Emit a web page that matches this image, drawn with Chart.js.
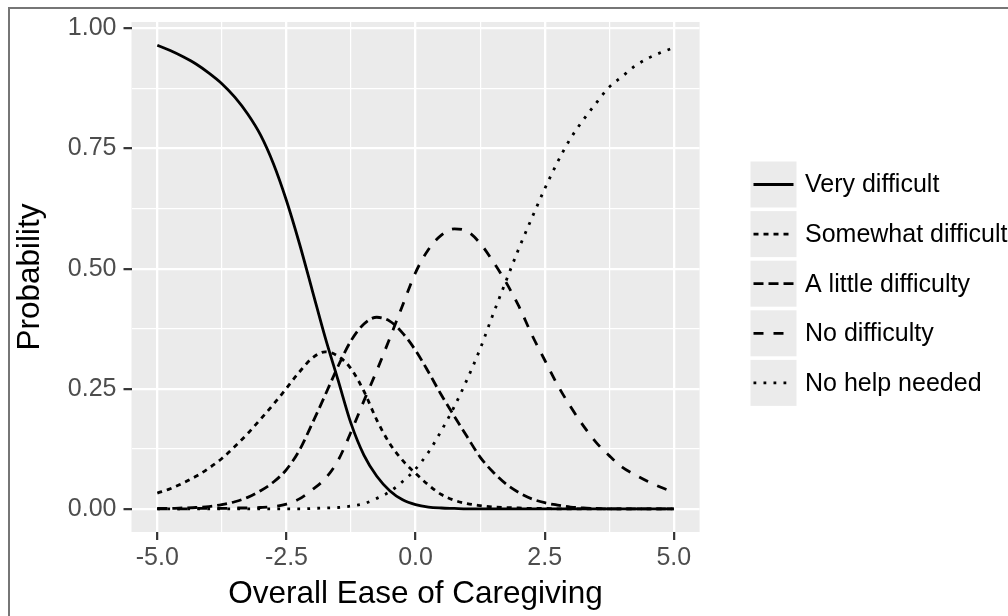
<!DOCTYPE html>
<html>
<head>
<meta charset="utf-8">
<script src="https://cdn.jsdelivr.net/npm/chart.js@4.4.1/dist/chart.umd.min.js"></script>
<style>
  html, body { margin: 0; padding: 0; background: #ffffff; }
  #wrap { position: relative; width: 1008px; height: 616px; overflow: hidden; }
  #frame { position: absolute; left: 8px; top: 7px; right: -4px; bottom: -4px;
           border-left: 2px solid #767676; border-top: 2px solid #767676; pointer-events: none; }
  canvas { display: block; }
</style>
</head>
<body>
<div id="wrap">
  <canvas id="c" width="1008" height="616"></canvas>
  <div id="frame"></div>
</div>
<script>
// ---- data ----
const xValues = [-5, -4.75, -4.5, -4.25, -4, -3.75, -3.5, -3.25, -3, -2.75, -2.5, -2.25, -2, -1.75, -1.5, -1.25, -1, -0.75, -0.5, -0.25,
                 0, 0.25, 0.5, 0.75, 1, 1.25, 1.5, 1.75, 2, 2.25, 2.5, 2.75, 3, 3.25, 3.5, 3.75, 4, 4.25, 4.5, 4.75, 5];

const seriesNames = ['Very difficult', 'Somewhat difficult', 'A little difficulty', 'No difficulty', 'No help needed'];

const veryDifficult = [0.965, 0.954, 0.941, 0.926, 0.907, 0.885, 0.857, 0.822, 0.778, 0.718, 0.642, 0.553, 0.455, 0.357, 0.268, 0.178, 0.112, 0.068, 0.038, 0.019,
                       0.009, 0.004, 0.002, 0.001, 0, 0, 0, 0, 0, 0, 0, 0, 0, 0, 0, 0, 0, 0, 0, 0, 0];
const somewhatDifficult = [0.033, 0.042, 0.054, 0.068, 0.085, 0.105, 0.130, 0.157, 0.187, 0.218, 0.251, 0.285, 0.314, 0.327, 0.318, 0.292, 0.245, 0.185, 0.136, 0.101,
                           0.074, 0.050, 0.030, 0.018, 0.011, 0.007, 0.004, 0.003, 0.002, 0.001, 0.001, 0, 0, 0, 0, 0, 0, 0, 0, 0, 0];
const aLittleDifficulty = [0.001, 0.001, 0.002, 0.003, 0.005, 0.009, 0.015, 0.024, 0.038, 0.056, 0.082, 0.122, 0.178, 0.237, 0.297, 0.350, 0.385, 0.399, 0.391, 0.366,
                           0.330, 0.285, 0.237, 0.193, 0.150, 0.108, 0.077, 0.052, 0.034, 0.021, 0.013, 0.008, 0.004, 0.002, 0.001, 0, 0, 0, 0, 0, 0];
const noDifficulty = [0, 0, 0, 0.001, 0.001, 0.001, 0.002, 0.002, 0.003, 0.005, 0.010, 0.021, 0.040, 0.063, 0.101, 0.160, 0.225, 0.288, 0.355, 0.424,
                      0.492, 0.540, 0.570, 0.583, 0.578, 0.553, 0.515, 0.472, 0.422, 0.363, 0.310, 0.258, 0.213, 0.173, 0.138, 0.111, 0.087, 0.071, 0.057, 0.045, 0.035];
const noHelpNeeded = [0, 0, 0, 0, 0, 0, 0, 0, 0, 0, 0, 0, 0.001, 0.002, 0.003, 0.006, 0.011, 0.022, 0.036, 0.057,
                      0.083, 0.118, 0.163, 0.213, 0.270, 0.333, 0.405, 0.474, 0.542, 0.605, 0.666, 0.722, 0.771, 0.810, 0.845, 0.878, 0.900, 0.922, 0.938, 0.950, 0.960];

const xTickValues = [-5, -3.75, -2.5, -1.25, 0, 1.25, 2.5, 3.75, 5];
const xTickLabels = ['-5.0', '', '-2.5', '', '0.0', '', '2.5', '', '5.0'];
const yTickValues = [0, 0.125, 0.25, 0.375, 0.5, 0.625, 0.75, 0.875, 1];
const yTickLabels = ['0.00', '', '0.25', '', '0.50', '', '0.75', '', '1.00'];

const xTitle = 'Overall Ease of Caregiving';
const yTitle = 'Probability';

// ---- styles ----
const LW = 2.8;
const dashPatterns = [[], [5, 5], [10, 5], [10, 10], [2.8, 7.2]];
const seriesValues = [veryDifficult, somewhatDifficult, aLittleDifficulty, noDifficulty, noHelpNeeded];

const FONT = '"Liberation Sans", Arial, Helvetica, sans-serif';
Chart.defaults.font.family = FONT;

const panelBg = {
  id: 'panelBg',
  beforeDraw(chart) {
    const a = chart.chartArea, ctx = chart.ctx;
    ctx.save();
    ctx.fillStyle = '#ebebeb';
    ctx.fillRect(a.left, a.top, a.right - a.left, a.bottom - a.top);
    ctx.restore();
  }
};

const ggLegend = {
  id: 'ggLegend',
  afterDraw(chart) {
    const ctx = chart.ctx;
    const keyX = 750.5, keyW = 46, keyH = 46, top0 = 161.5, pitch = 49.6;
    chart.data.datasets.forEach((ds, i) => {
      const y0 = top0 + i * pitch;
      const cy = y0 + keyH / 2;
      ctx.save();
      ctx.fillStyle = '#ebebeb';
      ctx.fillRect(keyX, y0, keyW, keyH);
      ctx.strokeStyle = ds.borderColor;
      ctx.lineWidth = ds.borderWidth;
      ctx.lineCap = 'butt';
      ctx.setLineDash(ds.borderDash || []);
      ctx.beginPath();
      ctx.moveTo(keyX + 3, cy);
      ctx.lineTo(keyX + keyW - 3, cy);
      ctx.stroke();
      ctx.setLineDash([]);
      ctx.fillStyle = '#000000';
      ctx.font = '25px ' + FONT;
      ctx.textAlign = 'left';
      ctx.textBaseline = 'middle';
      ctx.fillText(ds.label, 805, cy + 1);
      ctx.restore();
    });
  }
};

const isMajor = v => Math.abs((v / 2.5) - Math.round(v / 2.5)) < 1e-6;
const isMajorY = v => Math.abs(v * 4 - Math.round(v * 4)) < 1e-6;

new Chart(document.getElementById('c'), {
  type: 'line',
  data: {
    datasets: seriesNames.map((name, k) => ({
      label: name,
      data: xValues.map((x, i) => ({ x: x, y: seriesValues[k][i] })),
      borderColor: '#000000',
      backgroundColor: '#000000',
      borderWidth: LW,
      borderDash: dashPatterns[k],
      borderCapStyle: 'butt',
      pointRadius: 0,
      pointHoverRadius: 0,
      fill: false,
      cubicInterpolationMode: 'monotone'
    }))
  },
  options: {
    responsive: false,
    animation: false,
    devicePixelRatio: 1,
    events: [],
    layout: { padding: { top: 21.7, right: 308.4, left: 0, bottom: 0 } },
    plugins: { legend: { display: false }, tooltip: { enabled: false } },
    scales: {
      x: {
        type: 'linear',
        min: -5.5,
        max: 5.5,
        afterBuildTicks: s => { s.ticks = xTickValues.map(v => ({ value: v })); },
        afterFit: s => { s.height = 84; },
        border: { display: false },
        grid: {
          color: '#ffffff',
          lineWidth: c => (c.tick && isMajor(c.tick.value)) ? 2.3 : 1.2,
          tickLength: 8,
          tickWidth: 2.2,
          tickColor: c => (c.tick && isMajor(c.tick.value)) ? '#333333' : 'rgba(0,0,0,0)'
        },
        ticks: {
          autoSkip: false,
          maxRotation: 0,
          minRotation: 0,
          color: '#4d4d4d',
          font: { size: 25 },
          padding: 3,
          callback: (v, i) => xTickLabels[xTickValues.indexOf(v)] ?? ''
        },
        title: {
          display: true,
          text: xTitle,
          color: '#000000',
          font: { size: 31.5, lineHeight: 1.2 },
          padding: { top: 0, bottom: 3 }
        }
      },
      y: {
        type: 'linear',
        min: -0.048,
        max: 1.0135,
        afterBuildTicks: s => { s.ticks = yTickValues.map(v => ({ value: v })); },
        afterFit: s => { s.width = 131.5; },
        border: { display: false },
        grid: {
          color: '#ffffff',
          lineWidth: c => (c.tick && isMajorY(c.tick.value)) ? 2.3 : 1.2,
          tickLength: 8,
          tickWidth: 2.2,
          tickColor: c => (c.tick && isMajorY(c.tick.value)) ? '#333333' : 'rgba(0,0,0,0)'
        },
        ticks: {
          autoSkip: false,
          color: '#4d4d4d',
          font: { size: 25 },
          padding: 7,
          callback: (v, i) => yTickLabels[yTickValues.indexOf(v)] ?? ''
        },
        title: {
          display: true,
          text: yTitle,
          color: '#000000',
          font: { size: 31.5, lineHeight: 1.2 },
          padding: { top: 11, bottom: 0 }
        }
      }
    }
  },
  plugins: [panelBg, ggLegend]
});
</script>
</body>
</html>
